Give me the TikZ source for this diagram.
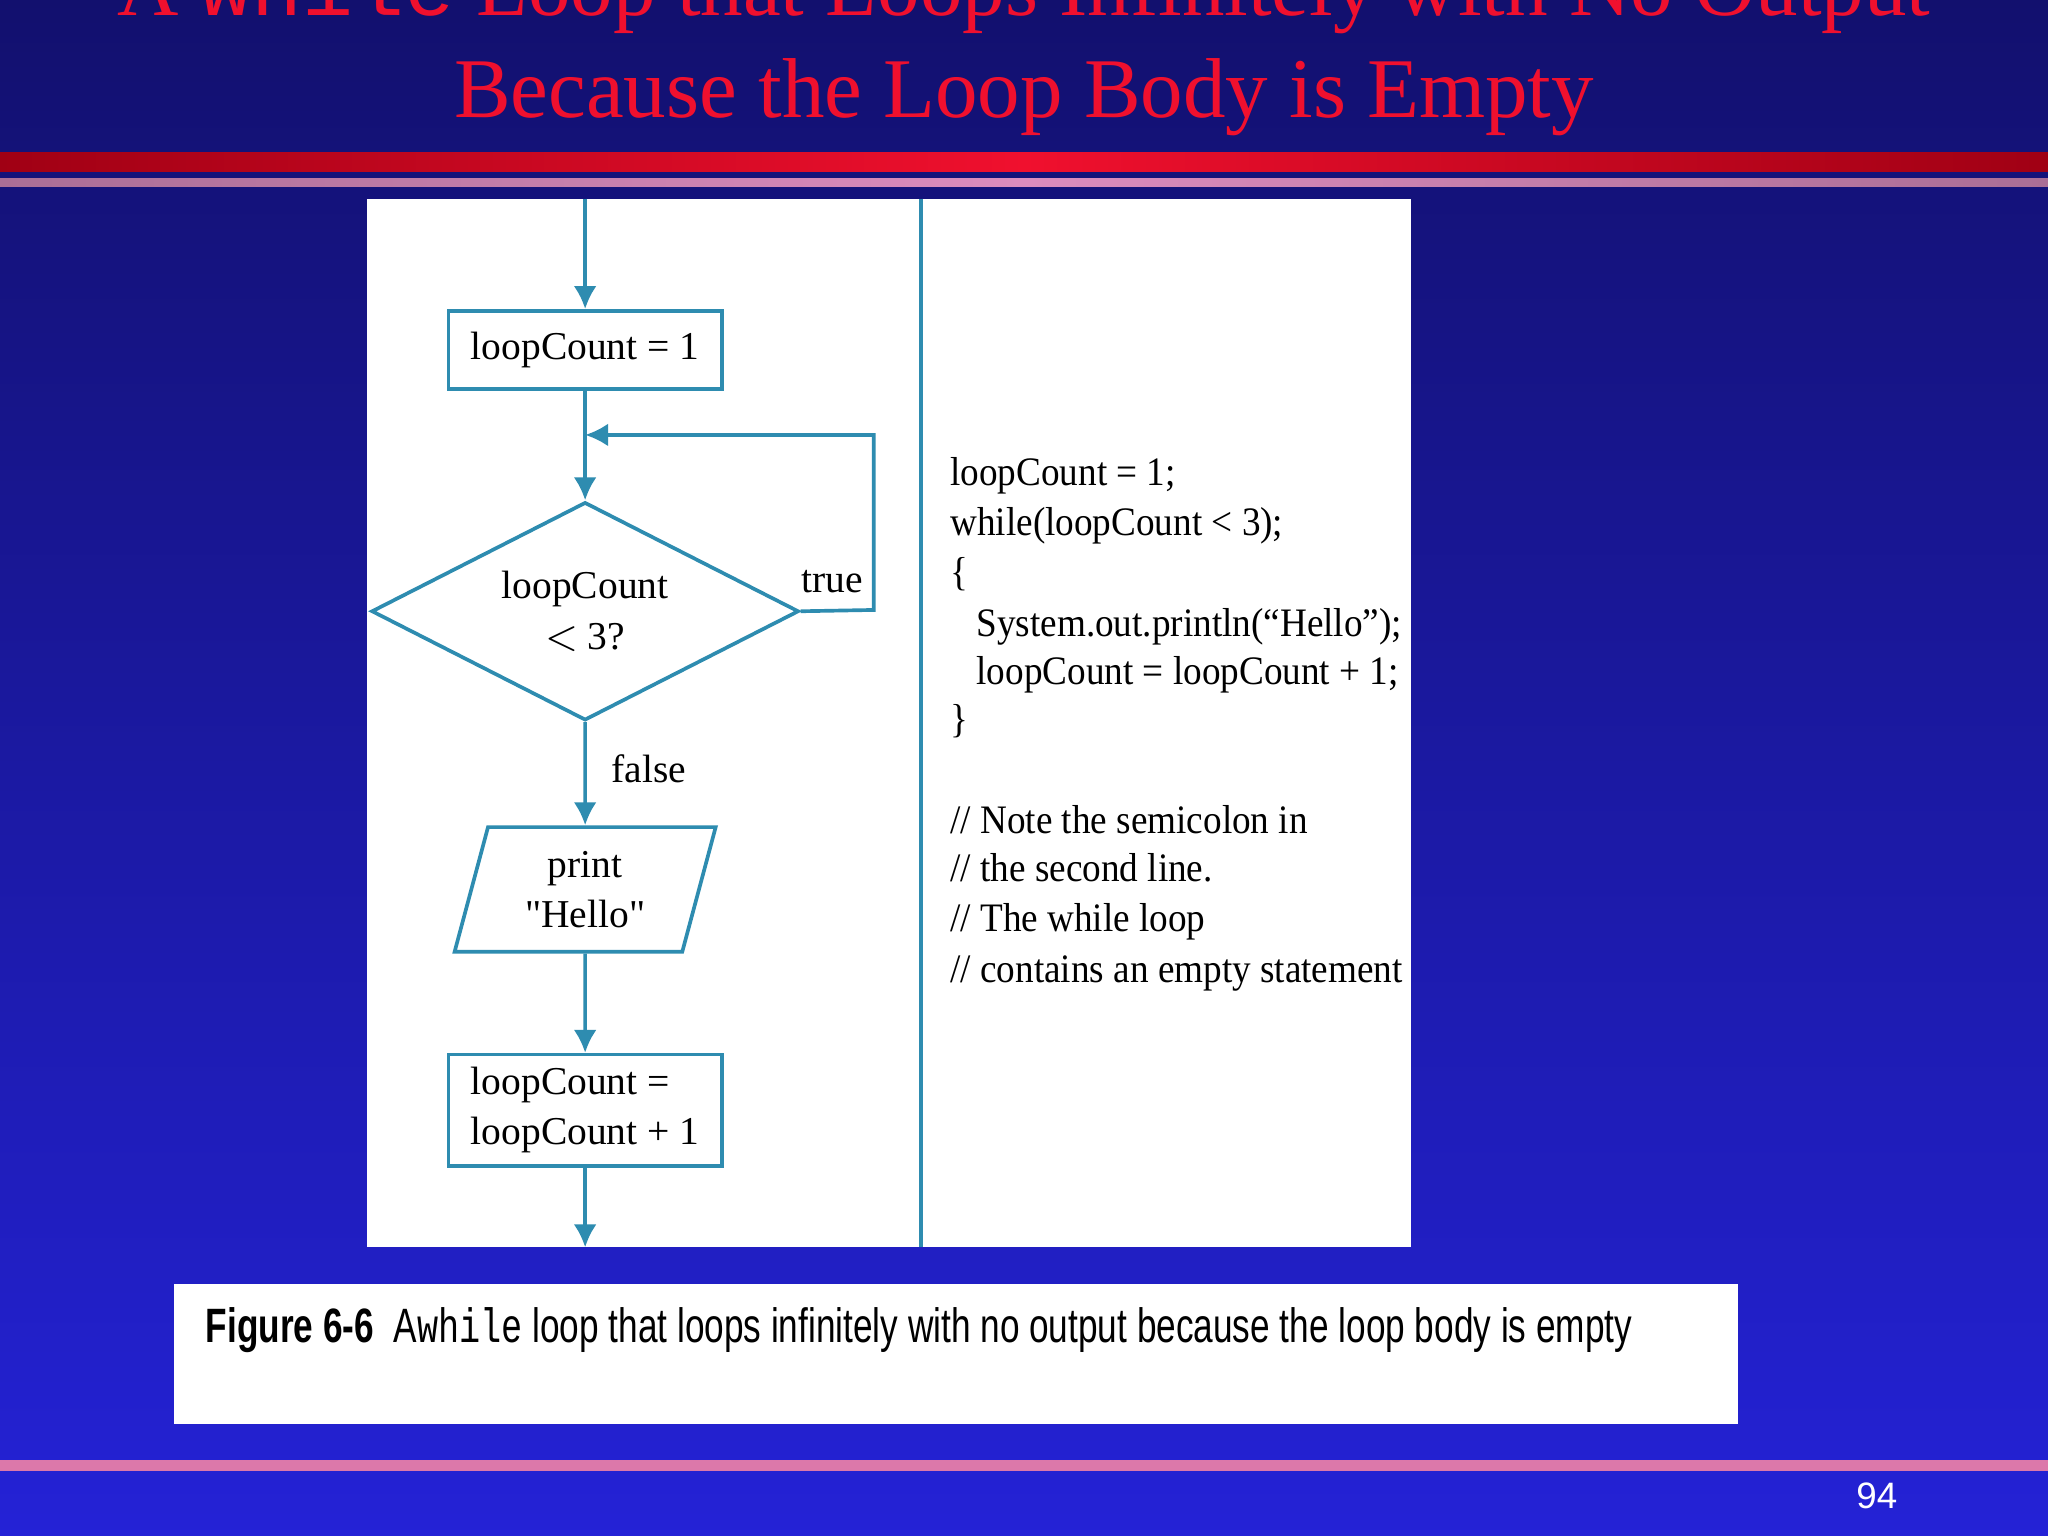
\documentclass[tikz,border=0pt]{standalone}
\usepackage{fontspec}
\setmainfont{Liberation Serif}
\setsansfont{Liberation Sans}
\setmonofont{Liberation Mono}
\usetikzlibrary{shapes.geometric,positioning,arrows.meta}
\definecolor{flowline}{HTML}{2E8CB0}
\definecolor{titlered}{HTML}{F0102E}
\definecolor{bgtop}{RGB}{18,16,110}
\definecolor{bgbottom}{RGB}{36,34,214}
\definecolor{bardark}{RGB}{160,0,20}
\definecolor{pinkdark}{RGB}{170,110,150}
\definecolor{pinklight}{RGB}{220,140,190}
\definecolor{pinkbar}{RGB}{220,120,170}
\tikzset{
  flowfont/.style={font=\fontsize{8.6}{10}\selectfont},
  flowbox/.style={draw=flowline, line width=0.8pt, minimum width=2.09cm, minimum height=0.6cm, inner sep=0pt, flowfont},
  flowarr/.style={draw=flowline, line width=0.8pt, -{Latex[length=5pt,width=5pt]}},
  codetxt/.style={anchor=base west, inner sep=0pt, xscale=0.92, font=\fontsize{8.8}{10}\selectfont}
}
\begin{document}
\begin{tikzpicture}[x=0.01cm, y=-0.01cm]
\useasboundingbox (0,0) rectangle (1568,1176);
% background
\shade[top color=bgtop, bottom color=bgbottom] (0,0) rectangle (1568,1176);
\shade[left color=bardark, right color=bardark, middle color=titlered] (0,117) rectangle (1568,131);
\shade[left color=pinkdark, right color=pinkdark, middle color=pinklight] (0,137) rectangle (1568,143);
\fill[pinkbar] (0,1118) rectangle (1568,1126);
% title
\node[anchor=base, text=titlered, font=\fontsize{18.5}{22}\selectfont] (title1) at (784,12) {A {\ttfamily while} Loop that Loops Infinitely with No Output};
\node[anchor=base, text=titlered, font=\fontsize{18.5}{22}\selectfont] (title2) at (784,90) {Because the Loop Body is Empty};
\node[anchor=base, text=white, font=\sffamily\fontsize{8}{10}\selectfont] (pageno) at (1437,1155) {94};
% panel
\fill[white] (281,152) rectangle (1080,955);
\draw[flowline, line width=0.8pt] (705,152) -- (705,955);
% flowchart
\coordinate (start) at (448,152);
\node[flowbox] (init) at (448,268) {loopCount = 1};
\node[draw=flowline, line width=0.8pt, diamond, aspect=1.96, minimum width=3.27cm, minimum height=1.67cm, inner sep=0pt, align=center, flowfont] (test) at (448,468) {loopCount\\[1pt]${<}$ 3?};
\node[draw=flowline, line width=0.8pt, trapezium, trapezium left angle=75, trapezium right angle=105, minimum width=2.0cm, minimum height=0.86cm, inner sep=0pt, align=center, flowfont] (print) at (448,681) {print\\[1pt]\textquotedbl Hello\textquotedbl};
\node[flowbox, minimum height=0.85cm, align=left] (incr) at (448,850) {loopCount =\\[1pt]loopCount + 1};
\coordinate (finish) at (448,955);
\coordinate (back) at (448,333);
\draw[flowarr] (start) -- (init.north);
\draw[flowarr] (init.south) -- (test.north);
\draw[flowarr] (test.east) -- (669,467) -- (669,333) -- (back);
\draw[flowarr] (test.south) -- node[right, flowfont, xshift=2pt, pos=0.45] (lfalse) {false} (print.north);
\draw[flowarr] (print.south) -- (incr.north);
\draw[flowarr] (incr.south) -- (finish);
\node[flowfont] (ltrue) at (637,445) {true};
% code
\begin{scope}
\clip (705,152) rectangle (1080,955);
\node[codetxt] (c1) at (727,372) {loopCount = 1;};
\node[codetxt] (c2) at (727,410) {while(loopCount < 3);};
\node[codetxt] (c3) at (727,448) {\{};
\node[codetxt] (c4) at (747,487) {System.out.println(“Hello”);};
\node[codetxt] (c5) at (747,524) {loopCount = loopCount + 1;};
\node[codetxt] (c6) at (727,561) {\}};
\node[codetxt] (c7) at (727,638) {// Note the semicolon in};
\node[codetxt] (c8) at (727,675) {// the second line.};
\node[codetxt] (c9) at (727,713) {// The while loop};
\node[codetxt] (c10) at (727,752) {// contains an empty statement};
\end{scope}
% caption
\fill[white] (133,983) rectangle (1331,1090);
\node[anchor=base west, inner sep=0pt, xscale=0.73, font=\sffamily\fontsize{10.5}{12}\selectfont] (caption) at (157,1028) {\textbf{Figure 6-6}\ \ A{\ttfamily while} loop that loops infinitely with no output because the loop body is empty};
\end{tikzpicture}
\end{document}
